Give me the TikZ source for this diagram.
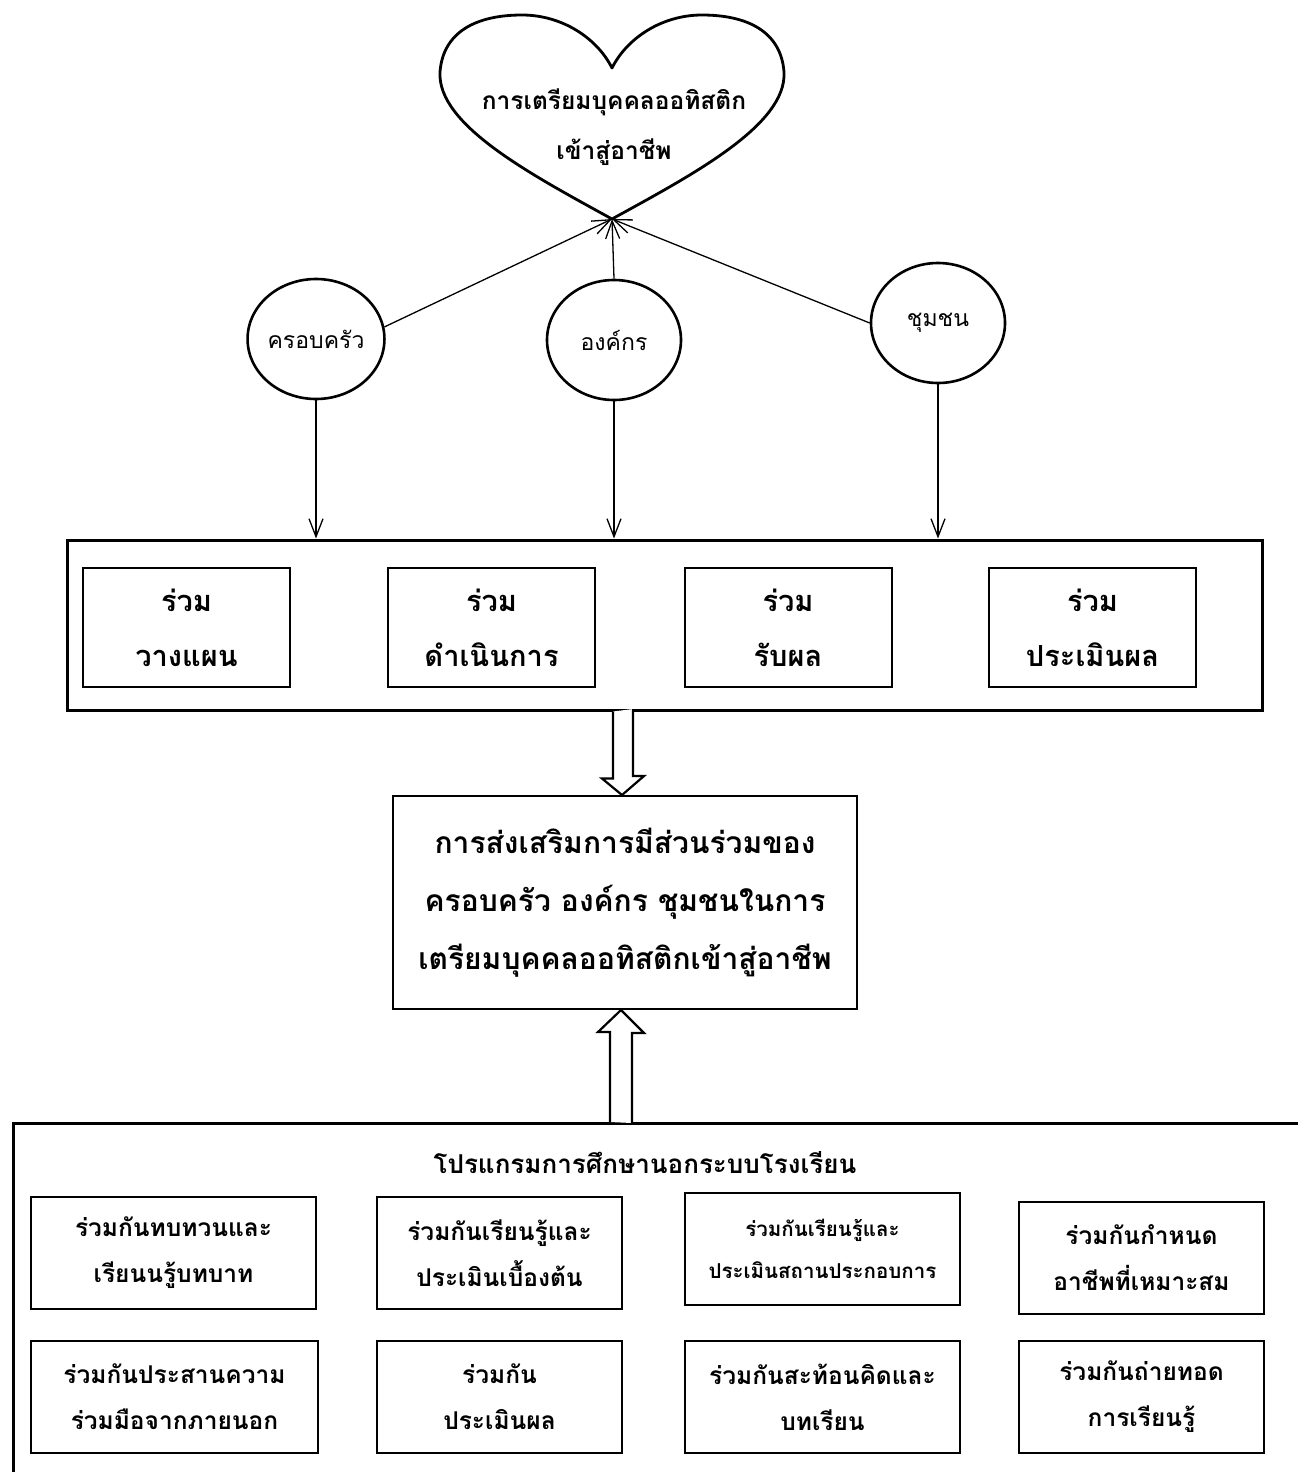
\documentclass[tikz,border=0pt]{standalone}
\usepackage{fontspec}
\newfontfamily\thai[Script=Thai]{Loma}
\usetikzlibrary{arrows.meta,shapes.geometric,calc}
\tikzset{
  lbl/.style={font=\thai},
  ell/.style={ellipse, draw, line width=2.6pt, minimum width=134pt, minimum height=120pt, inner sep=0pt, font=\thai\fontsize{23}{28}\selectfont},
  bigframe/.style={draw, line width=3pt, inner sep=0pt},
  topbox/.style={draw, line width=2pt, inner sep=0pt, minimum width=207pt, minimum height=119pt, align=center, font=\thai\bfseries\fontsize{29}{55}\selectfont},
  mainbox/.style={draw, line width=2pt, inner sep=0pt, minimum width=464pt, minimum height=213pt, align=center, font=\thai\bfseries\fontsize{30}{58}\selectfont},
  botbox/.style={draw, line width=2pt, inner sep=0pt, minimum height=112pt, align=center, font=\thai\bfseries\fontsize{24.5}{46}\selectfont},
  conn/.style={line width=1.3pt, -{Straight Barb[length=18pt,width=14pt,line width=1.3pt]}},
  hollow/.style={draw, line width=2.2pt, fill=white, line join=miter},
}
\begin{document}
\begin{tikzpicture}[x=1pt,y=-1pt]
\useasboundingbox (0,0) rectangle (1298,1472);
\clip (0,0) rectangle (1298,1472);
\fill[white] (0,0) rectangle (1298,1472);

% heart
\coordinate (tip) at (612,219);
\draw[line width=2.8pt, line join=round]
  (tip) .. controls (692,175) and (787,125) .. (784,72)
        .. controls (781,32) and (748,15) .. (702,15)
        .. controls (662,15) and (627,38) .. (612,68)
        .. controls (597,38) and (562,15) .. (522,15)
        .. controls (476,15) and (443,32) .. (440,72)
        .. controls (437,125) and (532,175) .. (tip) -- cycle;
\node[lbl, align=center, font=\thai\bfseries\fontsize{24.5}{50}\selectfont] (heart) at (614,127) {การเตรียมบุคคลออทิสติก\\เข้าสู่อาชีพ};

% circles
\node[ell] (c1) at (316,339) {ครอบครัว};
\node[ell] (c2) at (614,340) {องค์กร};
\node[ell] (c3) at (938,323) {ชุมชน};

\draw[conn] (c1.10) -- (tip);
\draw[conn] (c2.north) -- (tip);
\draw[conn] (c3.west) -- (tip);

% top frame
\node[bigframe, minimum width=1195pt, minimum height=170pt] (frame1) at (664.5,625) {};
\node[topbox] (t1) at (186.5,627.5) {ร่วม\\วางแผน};
\node[topbox] (t2) at (491.5,627.5) {ร่วม\\ดำเนินการ};
\node[topbox] (t3) at (788,627.5) {ร่วม\\รับผล};
\node[topbox] (t4) at (1092.5,627.5) {ร่วม\\ประเมินผล};

\draw[conn] (c1.south) -- (c1.south |- frame1.north);
\draw[conn] (c2.south) -- (c2.south |- frame1.north);
\draw[conn] (c3.south) -- (c3.south |- frame1.north);

% main box
\node[mainbox] (main) at (625,902.5) {การส่งเสริมการมีส่วนร่วมของ\\ครอบครัว องค์กร ชุมชนในการ\\เตรียมบุคคลออทิสติกเข้าสู่อาชีพ};

% bottom frame
\node[bigframe, anchor=north west, minimum width=1400pt, minimum height=500pt] (frame2) at (12,1122) {};
\node[lbl, font=\thai\bfseries\fontsize{26}{30}\selectfont] (title) at (645,1163) {โปรแกรมการศึกษานอกระบบโรงเรียน};

\node[botbox, minimum width=285pt] (b1) at (173.5,1253) {ร่วมกันทบทวนและ\\เรียนนรู้บทบาท};
\node[botbox, minimum width=245pt] (b2) at (499.5,1253) {ร่วมกันเรียนรู้และ\\ประเมินเบื้องต้น};
\node[botbox, minimum width=275pt, font=\thai\bfseries\fontsize{20.5}{42}\selectfont] (b3) at (822.5,1249) {ร่วมกันเรียนรู้และ\\ประเมินสถานประกอบการ};
\node[botbox, minimum width=245pt] (b4) at (1141.5,1258) {ร่วมกันกำหนด\\อาชีพที่เหมาะสม};
\node[botbox, minimum width=287pt] (b5) at (174.5,1397) {ร่วมกันประสานความ\\ร่วมมือจากภายนอก};
\node[botbox, minimum width=245pt] (b6) at (499.5,1397) {ร่วมกัน\\ประเมินผล};
\node[botbox, minimum width=275pt] (b7) at (822.5,1397) {ร่วมกันสะท้อนคิดและ\\บทเรียน};
\node[botbox, minimum width=245pt] (b8) at (1141.5,1397) {ร่วมกันถ่ายทอด\\การเรียนรู้};

% hollow arrows
\draw[hollow] ($(frame1.south -| main.north)+(-12,0)$) -- ++(0,67) -- ++(-11,0)
  -- ($(main.north)+(-3,0)$) -- ++(22,-19) -- ++(-11,0) -- ++(0,-67);
\draw[hollow] ($(frame2.north -| main.south)+(-15,0)$) -- ++(0,-90) -- ++(-12,0)
  -- ($(main.south)+(-4,0)$) -- ++(23,23) -- ++(-12,0) -- ++(0,90);
\end{tikzpicture}
\end{document}
